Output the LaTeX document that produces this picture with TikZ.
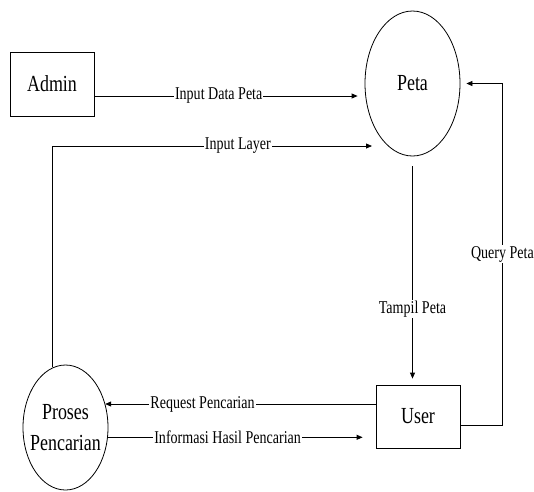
\documentclass[tikz,border=0pt]{standalone}
\usepackage{fontspec}
\setmainfont{Liberation Serif}[FakeStretch=0.78]
\usetikzlibrary{shapes.geometric,arrows.meta}
\begin{document}
\begin{tikzpicture}[x=1pt,y=-1pt,line width=0.8pt,
    entity/.style={draw,rectangle,minimum width=84pt,minimum height=64pt,font=\fontsize{23}{31}\selectfont},
    proc/.style={draw,ellipse,inner xsep=-6pt,inner ysep=0pt,align=center,font=\fontsize{23}{31}\selectfont},
    flow/.style={-{Triangle[length=6pt,width=5pt]}},
    lbl/.style={fill=white,inner sep=1pt,font=\fontsize{18}{20}\selectfont}]
  \useasboundingbox (0,0) rectangle (534,491);
  \node [entity] (admin) at (52,84) {Admin};
  \node [proc,minimum width=95pt,minimum height=145pt] (peta) at (412.5,83.5) {Peta};
  \node [entity,minimum height=63pt] (user) at (418,416.5) {User};
  \node [proc,minimum width=85pt,minimum height=125pt] (proses) at (65.5,427.5) {Proses\\Pencarian};
  \coordinate (layer) at (372,146);
  \draw [flow,shorten >=7pt] ([yshift=-12pt]admin.east) -- node[lbl,pos=0.46]{Input Data Peta} ([yshift=-12pt]admin.east -| peta.west);
  \draw [flow] (proses.102) |- node[lbl,pos=0.79]{Input Layer} (layer);
  \draw [flow,shorten <=10pt,shorten >=6pt] (peta) -- node[lbl,pos=0.67]{Tampil Peta} (peta.south |- user.north);
  \draw [flow,shorten >=6pt] ([yshift=-8.5pt]user.east) -| node[lbl,pos=0.75]{Query Peta} ([xshift=42pt]peta.east) -- (peta.east);
  \draw [flow] ([yshift=12.5pt]user.west) -- node[lbl,pos=0.64]{Request Pencarian} ([yshift=12.5pt]user.west -| proses.31);
  \draw [flow] (proses.-13) -- node[lbl,pos=0.47]{Informasi Hasil Pencarian} ([xshift=-13pt]user.west |- proses.-13);
\end{tikzpicture}
\end{document}
